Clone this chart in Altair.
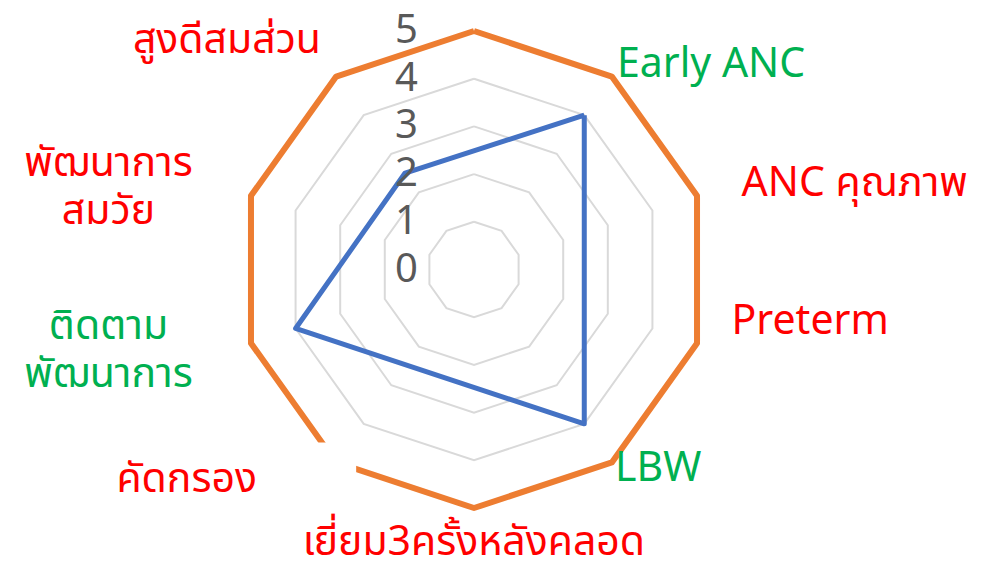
import altair as alt
import pandas as pd

# ---------------- data ----------------
categories = ["", "Early ANC", "ANC คุณภาพ", "Preterm", "LBW",
              "เยี่ยม3ครั้งหลังคลอด", "คัดกรอง", "ติดตาม\nพัฒนาการ",
              "พัฒนาการ\nสมวัย", "สูงดีสมส่วน"]
label_colors = ["#FF0000", "#00B050", "#FF0000", "#FF0000", "#00B050",
                "#FF0000", "#FF0000", "#00B050", "#FF0000", "#FF0000"]
actual = [None, 4, None, None, 4, None, None, 4, None, 2.5]
target = [5, 5, 5, 5, 5, 5, 5, 5, 5, 5]
tick_values = [0, 1, 2, 3, 4, 5]
grid_levels = [1, 2, 3, 4, 5]
hidden_label_idx = [6]   # white label box covering the orange corner

# ---------------- layout / style ----------------
N = len(categories)
W, H = 976, 555
CX, CY = 466.0, 261.5          # centre of radar inside plot area (px)
PX_X, PX_Y = 46.9, 47.7        # px per unit
LABEL_R = 5.55
FONT = "Noto Sans Thai, Noto Sans, sans-serif"
# manual label nudges in px (as dragged in the original chart)
label_nudge = {"Early ANC": (-10, 10), "ANC คุณภาพ": (20, -4), "Preterm": (10, -29),
               "LBW": (-12, -15), "คัดกรอง": (-64, -4), "สูงดีสมส่วน": (0, -14)}

xs = alt.Scale(domain=[-CX / PX_X, (W - CX) / PX_X], nice=False, zero=False)
ys = alt.Scale(domain=[-(H - CY) / PX_Y, CY / PX_Y], nice=False, zero=False)
ANG = f"datum.idx * 2 * PI / {N}"


def polar(ch):
    return ch.transform_calculate(
        px=f"datum.value * sin({ANG})",
        py=f"datum.value * cos({ANG})",
    )


X = alt.X("px:Q", scale=xs, axis=None)
Y = alt.Y("py:Q", scale=ys, axis=None)

# grid polygons
grid_rows = [{"level": lv, "idx": i, "value": lv} for lv in grid_levels for i in range(N + 1)]
grid = polar(alt.Chart(pd.DataFrame(grid_rows))).mark_line(
    color="#D9D9D9", strokeWidth=2
).encode(x=X, y=Y, order="idx:Q", detail="level:N")

# target (orange)
t_rows = [{"idx": i, "value": target[i % N]} for i in range(N + 1)]
orange = polar(alt.Chart(pd.DataFrame(t_rows))).mark_line(
    color="#ED7D31", strokeWidth=6, strokeJoin="round"
).encode(x=X, y=Y, order="idx:Q")

mask_rows = [{"idx": i, "value": target[i]} for i in hidden_label_idx]
mask = polar(alt.Chart(pd.DataFrame(mask_rows))).mark_square(
    size=1600, color="white", opacity=1
).encode(x=X, y=Y)

# actual (blue) – blank categories skipped, polygon closed
pts = [(i, v) for i, v in enumerate(actual) if v is not None]
a_rows = [{"idx": i, "value": v, "ord": k} for k, (i, v) in enumerate(pts)]
a_rows.append({"idx": pts[0][0], "value": pts[0][1], "ord": len(pts)})
blue = polar(alt.Chart(pd.DataFrame(a_rows))).mark_line(
    color="#4472C4", strokeWidth=5, strokeJoin="round"
).encode(x=X, y=Y, order="ord:Q")

# radial tick labels (along the vertical axis)
tick_df = pd.DataFrame({"v": tick_values, "t": [str(v) for v in tick_values]})
ticks = alt.Chart(tick_df).transform_calculate(
    px="0", py="datum.v"
).mark_text(
    align="right", baseline="middle", dx=-56, fontSize=40, font=FONT, color="#595959"
).encode(x=X, y=Y, text="t:N")

# category labels
lab_df = pd.DataFrame({
    "idx": list(range(N)), "value": [LABEL_R] * N,
    "text": categories, "col": label_colors,
    "nx": [label_nudge.get(c, (0, 0))[0] / PX_X for c in categories],
    "ny": [-label_nudge.get(c, (0, 0))[1] / PX_Y for c in categories],
})
lab_base = alt.Chart(lab_df).transform_calculate(
    px=f"datum.value * sin({ANG}) + datum.nx",
    py=f"datum.value * cos({ANG}) + datum.ny",
    s=f"sin({ANG})",
    multi="indexof(datum.text, '\\n') >= 0 ? 1 : 0",
)
enc = dict(x=X, y=Y, text="text:N", color=alt.Color("col:N", scale=None))
common = dict(fontSize=41, font=FONT, lineBreak="\n", lineHeight=48)
lab_right = lab_base.transform_filter("datum.s > 0.1 && datum.multi == 0").mark_text(
    align="left", baseline="middle", **common).encode(**enc)
lab_left = lab_base.transform_filter("datum.s < -0.1 && datum.multi == 0").mark_text(
    align="right", baseline="middle", **common).encode(**enc)
lab_center = lab_base.transform_filter("abs(datum.s) <= 0.1 && datum.text != ''").mark_text(
    align="center", baseline="middle", dy=9, **common).encode(**enc)
lab_multi = lab_base.transform_filter("datum.multi == 1").mark_text(
    align="center", baseline="middle", dx=-118, dy=-24, **common).encode(**enc)

chart = alt.layer(
    grid, orange, mask, blue, ticks, lab_right, lab_left, lab_center, lab_multi
).properties(
    width=W, height=H, padding=0, background="white",
    autosize=alt.AutoSizeParams(type="none"),
).configure_view(stroke=None)

chart.save("out.html", embed_options={"renderer": "svg", "actions": False})
